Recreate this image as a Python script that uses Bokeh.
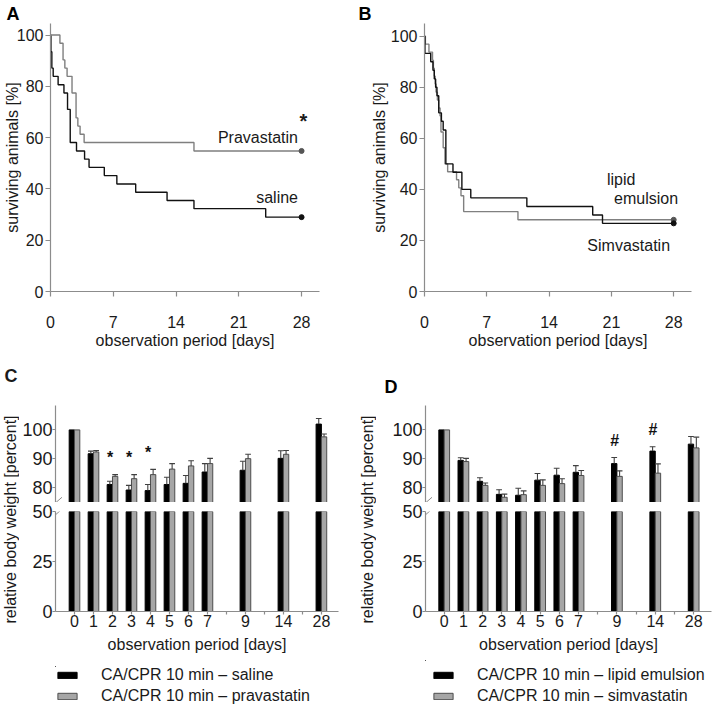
import numpy as np
from math import pi
from bokeh.plotting import figure
from bokeh.layouts import row, column
from bokeh.models import Range1d, FixedTicker, Label, Legend, LegendItem, Arrow
from bokeh.core.properties import value
from bokeh.embed import file_html
from bokeh.resources import INLINE

FONT = "Liberation Sans"
AXIS_COLOR = "#8c8c8c"
TEXT_COLOR = "#1a1a1a"

# ---------------- Panel A: survival, saline vs pravastatin ----------------
a_saline_days = [0, 0.05, 0.15, 0.3, 0.85, 1.5, 1.9, 2.2, 2.9, 3.8, 4.3, 6.0, 7.4, 9.5, 13.0, 16.0, 24.0, 28]
a_saline_surv = [100, 93.5, 87.1, 83.9, 80.6, 77.4, 71.0, 58.1, 54.8, 51.6, 48.4, 45.2, 41.9, 38.7, 35.5, 32.3, 29.0, 29.0]
a_prava_days = [0, 1.05, 1.4, 1.6, 1.85, 2.4, 2.85, 3.05, 3.3, 3.75, 16.0, 28]
a_prava_surv = [100, 96.8, 90.3, 87.1, 83.9, 77.4, 67.7, 64.5, 61.3, 58.1, 54.8, 54.8]

# ---------------- Panel B: survival, lipid emulsion vs simvastatin ----------------
b_lipid_days = [0, 0.05, 0.7, 0.95, 1.1, 1.25, 1.4, 1.6, 1.9, 2.1, 2.4, 3.2, 4.2, 5.2, 11.5, 18.9, 20.0, 28]
b_lipid_surv = [100, 93.3, 90.0, 86.7, 83.3, 80.0, 76.7, 70.0, 66.7, 63.3, 50.0, 46.7, 40.0, 36.7, 33.3, 30.0, 26.7, 26.7]
b_simva_days = [0, 0.1, 0.5, 0.9, 1.0, 1.1, 1.2, 1.3, 1.45, 1.6, 1.75, 1.85, 2.1, 2.3, 2.6, 3.6, 3.85, 4.1, 4.4, 10.5, 28]
b_simva_surv = [100, 96.9, 93.8, 90.6, 87.5, 84.4, 81.3, 78.1, 75.0, 71.9, 68.8, 62.5, 56.3, 50.0, 46.9, 43.8, 40.6, 37.5, 31.3, 28.1, 28.1]

km_x_ticks = [0, 7, 14, 21, 28]
km_y_ticks = [0, 20, 40, 60, 80, 100]

# ---------------- Panels C / D: relative body weight ----------------
bar_days = [0, 1, 2, 3, 4, 5, 6, 7, 9, 14, 28]
bar_tick_labels = ["0", "1", "2", "3", "4", "5", "6", "7", "", "9", "", "14", "", "28"]

c_saline_mean = [100, 91.8, 81.2, 79.3, 79.1, 81.2, 81.6, 85.5, 86.1, 90.2, 102.0]
c_saline_sem = [0, 0.9, 1.1, 1.6, 2.1, 2.5, 2.7, 2.9, 3.1, 2.6, 1.9]
c_prava_mean = [100, 92.4, 84.0, 83.2, 84.6, 86.5, 87.6, 88.4, 90.1, 91.6, 97.6]
c_prava_sem = [0, 0.5, 0.6, 1.4, 1.8, 1.9, 1.8, 1.8, 1.5, 1.3, 1.0]
c_sig_days = [2, 3, 4]

d_lipid_mean = [100, 89.5, 82.3, 77.8, 77.5, 82.7, 84.4, 85.4, 88.4, 92.7, 95.1]
d_lipid_sem = [0, 0.9, 1.2, 1.6, 2.4, 2.3, 2.4, 2.3, 2.1, 1.5, 2.6]
d_simva_mean = [100, 89.1, 80.9, 76.8, 77.7, 80.9, 81.5, 84.3, 84.0, 85.1, 93.8]
d_simva_sem = [0, 1.1, 0.8, 1.1, 1.3, 1.9, 1.7, 1.7, 1.9, 3.2, 3.7]
d_sig_days = [9, 14]

upper_ticks = [80, 90, 100]
lower_ticks = [0, 25, 50]


def clean(p):
    p.outline_line_color = None
    p.grid.grid_line_color = None
    p.background_fill_color = "white"
    p.border_fill_color = "white"


def style_axis(ax, size, tick_out, standoff):
    ax.axis_line_color = AXIS_COLOR
    ax.axis_line_width = 1.2
    ax.major_tick_line_color = AXIS_COLOR
    ax.major_tick_line_width = 1.2
    ax.minor_tick_line_color = None
    ax.major_tick_in = 0
    ax.major_tick_out = tick_out
    ax.major_label_text_font = FONT
    ax.major_label_text_font_size = size
    ax.major_label_text_color = TEXT_COLOR
    ax.major_label_standoff = standoff
    ax.axis_label_text_font = FONT
    ax.axis_label_text_font_size = "16px"
    ax.axis_label_text_font_style = "normal"
    ax.axis_label_text_color = TEXT_COLOR


def style_letter(p, letter, offset, standoff):
    p.title.text = letter
    p.title.align = "left"
    p.title.offset = offset
    p.title.standoff = standoff
    p.title.text_font = FONT
    p.title.text_font_size = "18px"
    p.title.text_font_style = "bold"
    p.title.text_color = "#000000"


def txt(x, y, text, size="16px", align="left", baseline="middle", bold=False, **kw):
    return Label(x=x, y=y, text=text, text_font=FONT, text_font_size=size,
                 text_align=align, text_baseline=baseline, text_color=TEXT_COLOR,
                 text_font_style="bold" if bold else "normal", **kw)


def km_panel(curves, left, right, ylab_standoff, y_end, letter, letter_dx, labels):
    p = figure(width=357, height=358, x_range=Range1d(0, 30), y_range=Range1d(0, y_end),
               min_border_left=left, min_border_right=right, min_border_top=23, min_border_bottom=67,
               output_backend="svg", toolbar_location=None, title=letter)
    clean(p)
    style_letter(p, letter, letter_dx, -1)
    p.xaxis.ticker = FixedTicker(ticks=km_x_ticks)
    p.yaxis.ticker = FixedTicker(ticks=km_y_ticks)
    style_axis(p.xaxis[0], "16px", 5, 19)
    style_axis(p.yaxis[0], "16px", 5, 2)
    p.xaxis.axis_label = "observation period [days]"
    p.xaxis.axis_label_standoff = 1
    p.yaxis.axis_label = "surviving animals [%]"
    p.yaxis.axis_label_standoff = ylab_standoff
    for d, s, col, dot in curves:
        p.step(d, s, mode="after", line_color=col, line_width=1.4)
        p.scatter([d[-1]], [s[-1]], size=5, color=dot)
    for lab in labels:
        p.add_layout(lab)
    return p


pA = km_panel([(a_saline_days, a_saline_surv, "#111111", "#111111"),
               (a_prava_days, a_prava_surv, "#7f7f7f", "#555555")],
              left=50, right=38, ylab_standoff=-7, y_end=104.5, letter="A", letter_dx=-44,
              labels=[txt(27.6, 60, "Pravastatin", align="right"),
                      txt(27.6, 36.6, "saline", align="right"),
                      txt(28.2, 66.5, "*", size="20px", align="center", bold=True)])

pB = km_panel([(b_simva_days, b_simva_surv, "#808080", "#555555"),
               (b_lipid_days, b_lipid_surv, "#111111", "#111111")],
              left=67, right=23, ylab_standoff=0, y_end=105, letter="B", letter_dx=-66,
              labels=[txt(20.5, 43.8, "lipid"),
                      txt(21.3, 36.4, "emulsion"),
                      txt(18.3, 18.1, "Simvastatin")])

ROW2_H = 350


def label_fig(width, letter=None):
    f = figure(width=width, height=ROW2_H, x_range=Range1d(0, 1), y_range=Range1d(0, ROW2_H),
               min_border=0, x_axis_location=None, y_axis_location=None,
               output_backend="svg", toolbar_location=None)
    clean(f)
    # centre of the two stacked axes (page y ~519 -> 358 + 161 from the top)
    f.add_layout(txt(0.5, ROW2_H - 161, "relative body weight [percent]", size="16px", align="center",
                     baseline="middle", angle=pi / 2))
    if letter:
        f.add_layout(txt(0, ROW2_H, letter, size="18px", baseline="top", bold=True,
                         x_offset=4, y_offset=-7))
    return f


def bar_panel(mean_a, sem_a, mean_b, sem_b, names, width, left, right, x_start, x_end,
              sig_days, sig_text, legend_margin, letter=None, letter_dx=0):
    slots = np.array([bar_tick_labels.index(str(d)) for d in bar_days], dtype=float)
    ma, sa = np.array(mean_a, float), np.array(sem_a, float)
    mb, sb = np.array(mean_b, float), np.array(sem_b, float)
    xa, xb = slots - 0.14, slots + 0.14
    xr = Range1d(x_start, x_end)

    top = figure(width=width, height=144, x_range=xr, y_range=Range1d(75, 108.4),
                 x_axis_location=None, min_border_left=left, min_border_right=right,
                 min_border_top=47, min_border_bottom=0,
                 output_backend="svg", toolbar_location=None, title=letter)
    bot = figure(width=width, height=158, x_range=xr, y_range=Range1d(0, 50),
                 min_border_left=left, min_border_right=right,
                 min_border_top=9, min_border_bottom=49,
                 output_backend="svg", toolbar_location=None)
    leg = figure(width=width, height=ROW2_H - 144 - 158, x_range=Range1d(100, 101), y_range=Range1d(-20, -10),
                 min_border_left=left, min_border_top=6 - legend_margin, min_border_right=right,
                 min_border_bottom=0, x_axis_location=None, y_axis_location=None,
                 output_backend="svg", toolbar_location=None)
    rends = []
    for p in (top, bot, leg):
        clean(p)
        ra = p.vbar(x=xa, top=ma, bottom=0, width=0.28, fill_color="black", line_color="black")
        rb = p.vbar(x=xb, top=mb, bottom=0, width=0.28, fill_color="#a6a6a6", line_color="#4d4d4d")
        rends.append((ra, rb))
    for p in (top, bot):
        style_axis(p.yaxis[0], "18px", 3, 0)

    top.yaxis.ticker = FixedTicker(ticks=upper_ticks)
    bot.yaxis.ticker = FixedTicker(ticks=lower_ticks)

    # error bars (upper only)
    for x, m, s in ((xa, ma, sa), (xb, mb, sb)):
        k = s > 0
        top.segment(x0=x[k], y0=m[k], x1=x[k], y1=(m + s)[k], line_color="#404040", line_width=1.1)
        top.segment(x0=x[k] - 0.15, y0=(m + s)[k], x1=x[k] + 0.15, y1=(m + s)[k],
                    line_color="#404040", line_width=1.1)

    # significance marks
    idx = [bar_days.index(d) for d in sig_days]
    cap = np.maximum(ma + sa, mb + sb)[idx]
    top.text(x=slots[idx] - 0.12, y=cap + 5.8, text=[sig_text] * len(idx),
             text_font=value(FONT), text_font_size="16px", text_font_style="bold",
             text_align="center", text_baseline="middle", text_color="#111111")

    # axis-break marks
    top.add_layout(Arrow(end=None, x_start=x_start - 0.35, y_start=72.9, x_end=x_start + 0.34, y_end=76.8,
                         line_color=AXIS_COLOR, line_width=1))
    bot.add_layout(Arrow(end=None, x_start=x_start - 0.35, y_start=45.4, x_end=x_start + 0.34, y_end=51.2,
                         line_color=AXIS_COLOR, line_width=1))

    bot.xaxis.ticker = FixedTicker(ticks=list(range(len(bar_tick_labels))))
    bot.xaxis.major_label_overrides = {i: t for i, t in enumerate(bar_tick_labels)}
    style_axis(bot.xaxis[0], "16px", 3, 0)
    bot.xaxis.axis_label = "observation period [days]"
    bot.xaxis.axis_label_standoff = 6

    ra, rb = rends[2]
    legend = Legend(items=[LegendItem(label=names[0], renderers=[ra]),
                           LegendItem(label=names[1], renderers=[rb])],
                    location="top_left", orientation="vertical",
                    glyph_width=24, glyph_height=8, label_standoff=22, label_height=18,
                    label_text_font=FONT, label_text_font_size="16px", label_text_color=TEXT_COLOR,
                    spacing=3, padding=0, margin=legend_margin, border_line_color=None,
                    background_fill_alpha=0)
    leg.add_layout(legend)

    if letter:
        style_letter(top, letter, letter_dx, 18)
    return column(top, bot, leg)


colC = bar_panel(c_saline_mean, c_saline_sem, c_prava_mean, c_prava_sem,
                 ["CA/CPR 10 min \u2013 saline", "CA/CPR 10 min \u2013 pravastatin"],
                 width=338, left=33, right=19, x_start=-1.0, x_end=13.9,
                 sig_days=c_sig_days, sig_text="*", legend_margin=0)
colD = bar_panel(d_lipid_mean, d_lipid_sem, d_simva_mean, d_simva_sem,
                 ["CA/CPR 10 min \u2013 lipid emulsion", "CA/CPR 10 min \u2013 simvastatin"],
                 width=336, left=49, right=1, x_start=-0.975, x_end=13.93,
                 sig_days=d_sig_days, sig_text="#", legend_margin=6, letter="D", letter_dx=-41)

labC = label_fig(19, letter="C")
labD = label_fig(19)

layout = column(row(pA, pB), row(labC, colC, labD, colD))

open("out.html", "w").write(file_html(layout, INLINE))
